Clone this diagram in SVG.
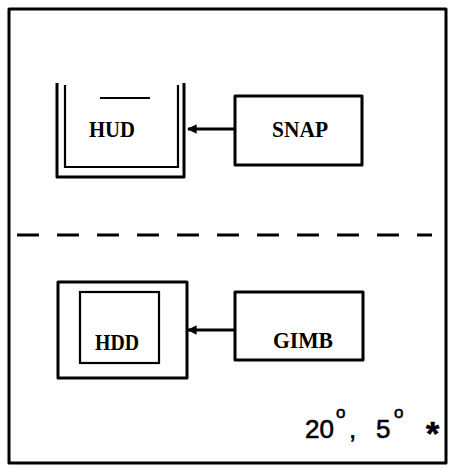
<svg xmlns="http://www.w3.org/2000/svg" width="451" height="466" viewBox="0 0 451 466">
<defs>
<style>
.ln{fill:none;stroke:#000;stroke-width:3;stroke-linejoin:round}
.thin{fill:none;stroke:#000;stroke-width:2.2}
.lbl{font-family:"Liberation Serif","DejaVu Serif",serif;font-weight:bold;font-size:24px;fill:#000}
.note{font-family:"Liberation Sans","DejaVu Sans",sans-serif;font-size:26px;fill:#000;stroke:#000;stroke-width:0.6}
</style>
<marker id="ah" viewBox="0 0 10 10" refX="9" refY="5" markerWidth="3.6" markerHeight="3.2" orient="auto" markerUnits="strokeWidth">
<path d="M0,0 L10,5 L0,10 Z" fill="#000"/>
</marker>
</defs>
<rect width="451" height="466" fill="#fff"/>
<g id="frame">
<rect x="9" y="9" width="437" height="454" class="ln"/>
<line x1="17" y1="235" x2="432" y2="235" stroke="#000" stroke-width="3" stroke-dasharray="22,18"/>
</g>
<g id="hud">
<path d="M57,83 V177 H184 V83" class="ln"/>
<path d="M65,85 V167 H178 V85" class="thin"/>
<line x1="100" y1="98" x2="150" y2="98" class="thin"/>
<text x="112" y="137" text-anchor="middle" class="lbl" textLength="46" lengthAdjust="spacingAndGlyphs">HUD</text>
</g>
<g id="snap">
<rect x="235" y="96" width="127" height="69" class="ln"/>
<text x="300" y="137" text-anchor="middle" class="lbl" textLength="56" lengthAdjust="spacingAndGlyphs">SNAP</text>
</g>
<g id="hdd">
<rect x="58" y="282" width="129" height="96" class="ln"/>
<rect x="80" y="292" width="79" height="71" class="thin"/>
<text x="117" y="350" text-anchor="middle" class="lbl" textLength="44" lengthAdjust="spacingAndGlyphs">HDD</text>
</g>
<g id="gimb">
<rect x="235" y="292" width="128" height="68" class="ln"/>
<text x="303" y="348" text-anchor="middle" class="lbl" textLength="60" lengthAdjust="spacingAndGlyphs">GIMB</text>
</g>
<g id="connectors">
<line x1="235" y1="129" x2="188" y2="129" class="ln" marker-end="url(#ah)"/>
<line x1="235" y1="330" x2="188" y2="330" class="ln" marker-end="url(#ah)"/>
</g>
<g id="note">
<text class="note" y="438"><tspan x="305">20</tspan><tspan x="336" y="418" font-size="17">o</tspan><tspan x="349" y="438">,</tspan><tspan x="376">5</tspan><tspan x="394" y="418" font-size="17">o</tspan><tspan x="426" y="445" font-size="34" font-weight="bold">*</tspan></text>
</g>
</svg>
